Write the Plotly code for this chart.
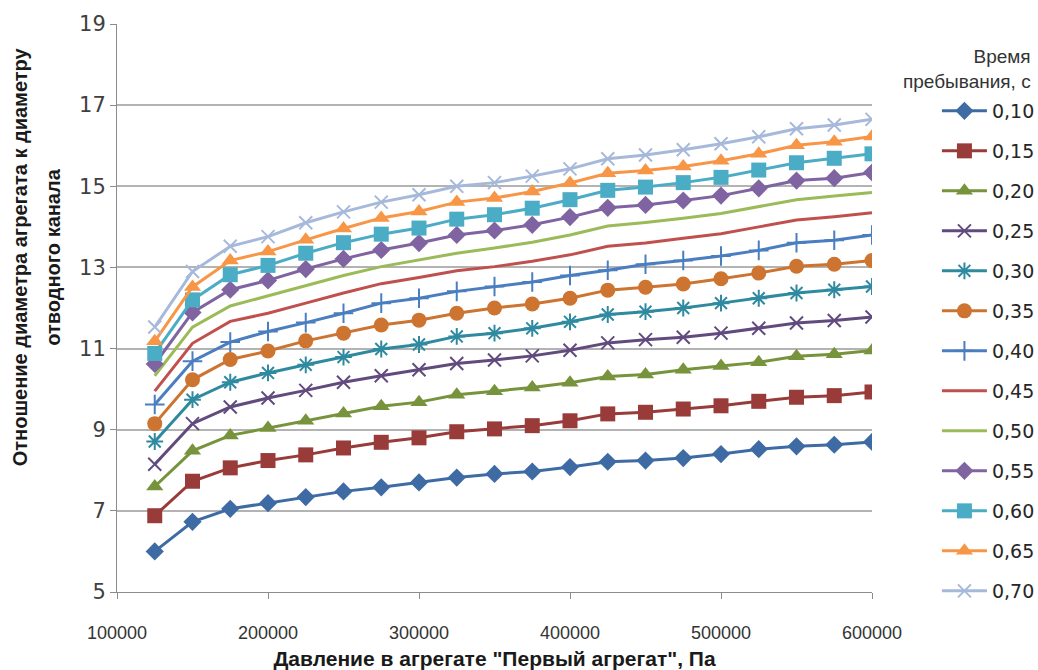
import plotly.graph_objects as go

# Pressure in the unit, Pa
pressure = [125000, 150000, 175000, 200000, 225000, 250000, 275000, 300000,
            325000, 350000, 375000, 400000, 425000, 450000, 475000, 500000,
            525000, 550000, 575000, 600000]

# Residence time labels
residence = ["0,10", "0,15", "0,20", "0,25", "0,30", "0,35", "0,40",
             "0,45", "0,50", "0,55", "0,60", "0,65", "0,70"]

# Diameter ratio for each residence time
ratio_010 = [6.00, 6.73, 7.05, 7.19, 7.34, 7.48, 7.58, 7.70, 7.82, 7.91,
             7.97, 8.08, 8.21, 8.24, 8.30, 8.40, 8.52, 8.59, 8.63, 8.70]
ratio_015 = [6.88, 7.73, 8.06, 8.24, 8.38, 8.55, 8.69, 8.80, 8.95, 9.02,
             9.10, 9.22, 9.39, 9.43, 9.51, 9.59, 9.70, 9.80, 9.84, 9.93]
ratio_020 = [7.60, 8.48, 8.86, 9.04, 9.22, 9.40, 9.58, 9.68, 9.86, 9.95,
             10.04, 10.16, 10.31, 10.36, 10.48, 10.57, 10.66, 10.81, 10.86, 10.95]
ratio_025 = [8.15, 9.15, 9.56, 9.78, 9.97, 10.17, 10.33, 10.48, 10.63, 10.72,
             10.82, 10.96, 11.14, 11.22, 11.28, 11.38, 11.50, 11.63, 11.69, 11.78]
ratio_030 = [8.71, 9.74, 10.17, 10.40, 10.60, 10.79, 10.99, 11.10, 11.30, 11.38,
             11.50, 11.66, 11.84, 11.91, 12.00, 12.12, 12.24, 12.37, 12.45, 12.53]
ratio_035 = [9.15, 10.23, 10.73, 10.94, 11.19, 11.38, 11.58, 11.70, 11.87, 12.00,
             12.10, 12.24, 12.44, 12.51, 12.59, 12.72, 12.86, 13.03, 13.08, 13.17]
ratio_040 = [9.62, 10.69, 11.16, 11.42, 11.64, 11.87, 12.12, 12.24, 12.41, 12.53,
             12.64, 12.80, 12.93, 13.08, 13.17, 13.28, 13.42, 13.61, 13.67, 13.80]
ratio_045 = [9.95, 11.13, 11.67, 11.87, 12.12, 12.37, 12.60, 12.75, 12.92, 13.02,
             13.15, 13.31, 13.52, 13.60, 13.72, 13.83, 14.00, 14.17, 14.25, 14.35]
ratio_050 = [10.33, 11.53, 12.05, 12.30, 12.56, 12.80, 13.02, 13.18, 13.35, 13.48,
             13.62, 13.80, 14.02, 14.11, 14.21, 14.33, 14.50, 14.67, 14.76, 14.85]
ratio_055 = [10.62, 11.89, 12.45, 12.68, 12.96, 13.21, 13.43, 13.60, 13.80, 13.91,
             14.05, 14.24, 14.47, 14.54, 14.65, 14.77, 14.95, 15.14, 15.20, 15.34]
ratio_060 = [10.88, 12.20, 12.82, 13.05, 13.35, 13.61, 13.82, 13.97, 14.19, 14.30,
             14.46, 14.67, 14.90, 14.98, 15.09, 15.22, 15.40, 15.58, 15.69, 15.80]
ratio_065 = [11.18, 12.52, 13.17, 13.39, 13.68, 13.96, 14.22, 14.38, 14.61, 14.71,
             14.87, 15.08, 15.32, 15.39, 15.49, 15.63, 15.80, 16.01, 16.10, 16.23]
ratio_070 = [11.53, 12.90, 13.52, 13.76, 14.10, 14.37, 14.61, 14.79, 15.00, 15.09,
             15.25, 15.43, 15.68, 15.77, 15.90, 16.05, 16.22, 16.42, 16.51, 16.65]

series = [ratio_010, ratio_015, ratio_020, ratio_025, ratio_030, ratio_035, ratio_040,
          ratio_045, ratio_050, ratio_055, ratio_060, ratio_065, ratio_070]

colors = ["#3E6BA4", "#983B39", "#77933C", "#614A7D", "#2F8AA0", "#CC7430", "#4A7EC0",
          "#C0504D", "#9BBB59", "#8064A2", "#4BACC6", "#F79646", "#A7B9DA"]
symbols = ["diamond", "square", "triangle-up", "x-thin", "asterisk", "circle", "cross-thin",
           None, None, "diamond", "square", "triangle-up", "x-thin"]
sizes = [14, 15, 15, 13, 14, 15, 14, 0, 0, 14, 15, 15, 13]

fig = go.Figure()
for name, ys, col, sym, sz in zip(residence, series, colors, symbols, sizes):
    if sym is None:
        mode = "lines"
        marker = dict()
    else:
        mode = "lines+markers"
        thin = sym in ("x-thin", "asterisk", "cross-thin")
        marker = dict(symbol=sym, size=sz, color=col,
                      line=dict(color=col, width=2 if thin else 0))
    fig.add_trace(go.Scatter(
        x=pressure, y=ys, name=name, mode=mode, legendgroup=name,
        line=dict(color=col, width=3), marker=marker,
    ))

axis_gray = "#8C8C8C"
fig.update_xaxes(
    range=[100000, 600000], dtick=100000, tick0=100000, tickformat="d",
    showgrid=False, showline=True, linecolor=axis_gray, linewidth=1,
    ticks="outside", ticklen=6, tickcolor=axis_gray,
    ticklabelstandoff=18, automargin=False,
    tickfont=dict(family="Liberation Sans, Arial, sans-serif", size=18, color="#333333"),
    title=dict(text='<b>Давление в агрегате "Первый агрегат", Па</b>',
               font=dict(family="Liberation Sans, Arial, sans-serif", size=21, color="#1a1a1a"),
               standoff=12),
    zeroline=False,
)
fig.update_yaxes(
    range=[5, 19], dtick=2, tick0=5,
    showgrid=True, gridcolor="#B3B3B3", gridwidth=1.5,
    showline=True, linecolor=axis_gray, linewidth=1,
    ticks="outside", ticklen=6, tickcolor=axis_gray, automargin=False,
    tickfont=dict(family="DejaVu Sans, sans-serif", size=21, color="#404040"),
    zeroline=False,
)

# Two-line y axis title
fig.add_annotation(text="<b>Отношение диаметра агрегата к диаметру</b>",
                   xref="paper", yref="paper", x=-0.128, y=0.59,
                   textangle=-90, showarrow=False, xanchor="center", yanchor="middle",
                   font=dict(family="Liberation Sans, Arial, sans-serif", size=20, color="#1a1a1a"))
fig.add_annotation(text="<b>отводного канала</b>",
                   xref="paper", yref="paper", x=-0.085, y=0.59,
                   textangle=-90, showarrow=False, xanchor="center", yanchor="middle",
                   font=dict(family="Liberation Sans, Arial, sans-serif", size=20, color="#1a1a1a"))

# Legend title
fig.add_annotation(text="Время<br>пребывания, с",
                   xref="paper", yref="paper", x=1.213, y=1.0 - (44 - 24) / 568,
                   xanchor="right", yanchor="top", align="right", showarrow=False,
                   font=dict(family="Liberation Sans, Arial, sans-serif", size=19, color="#333333"))

fig.update_layout(
    width=1038, height=670,
    margin=dict(l=117, r=166, t=24, b=78, autoexpand=False),
    paper_bgcolor="white", plot_bgcolor="white",
    showlegend=True,
    legend=dict(x=1.086, y=(592 - 92) / 568, xanchor="left", yanchor="top",
                tracegroupgap=12.3, itemwidth=45,
                font=dict(family="DejaVu Sans, sans-serif", size=19, color="#262626"),
                bgcolor="rgba(0,0,0,0)"),
)

fig.write_html("out.html")
